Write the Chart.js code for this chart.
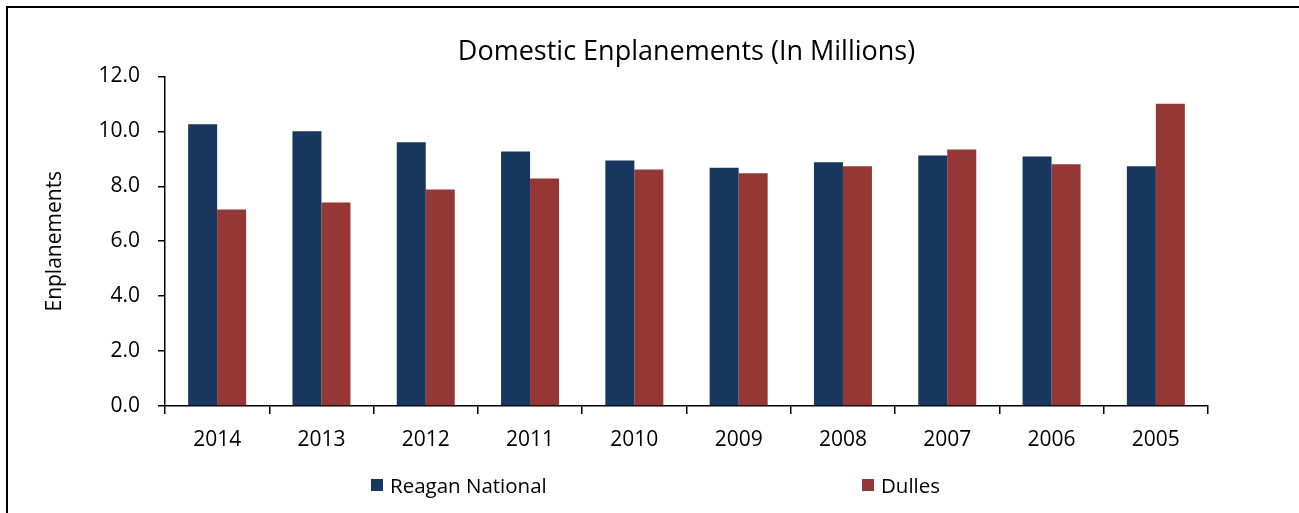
<!DOCTYPE html>
<html>
<head>
<meta charset="utf-8">
<script src="https://cdn.jsdelivr.net/npm/chart.js@4"></script>
<style>
  body { margin: 0; background: #fff; overflow: hidden; }
  #wrap { position: relative; width: 1299px; height: 513px; overflow: hidden; }
  #frame { position: absolute; left: 6px; top: 6px; width: 2000px; height: 2000px;
           border-left: 2px solid #000; border-top: 2px solid #000; pointer-events: none; }
  #legend { position: absolute; left: 371px; top: 471px; display: flex;
            font-family: "Open Sans", sans-serif; font-size: 20.5px; color: #000; }
  #legend div { width: 491px; display: flex; align-items: center; }
  #legend span.box { width: 12px; height: 12px; margin-right: 7px; display: inline-block; }
</style>
</head>
<body>
<div id="wrap">
  <canvas id="myChart" width="1299" height="513"></canvas>
  <div id="frame"></div>
  <div id="legend"></div>
</div>
<script>
const years = ['2014', '2013', '2012', '2011', '2010', '2009', '2008', '2007', '2006', '2005']
const reagan = [10.26, 10.0, 9.6, 9.27, 8.94, 8.67, 8.87, 9.12, 9.08, 8.73]
const dulles = [7.15, 7.41, 7.88, 8.28, 8.61, 8.47, 8.73, 9.34, 8.8, 11.0]
const yTicks = [0, 2, 4, 6, 8, 10, 12]

const font = "Open Sans"
const ctx = document.getElementById('myChart')

const qraf = new Chart(ctx, {
  type: 'bar',
  data: {
    labels: years,
    datasets: [
      { label: 'Reagan National', data: reagan, backgroundColor: '#17375E' },
      { label: 'Dulles', data: dulles, backgroundColor: '#953735' }
    ]
  },
  options: {
    responsive: false,
    animation: false,
    layout: { padding: { left: 30, right: 91, top: 0, bottom: 0 } },
    datasets: { bar: { categoryPercentage: 0.556, barPercentage: 1.0 } },
    plugins: {
      legend: { display: false },
      tooltip: { enabled: false },
      title: {
        display: true,
        fullSize: false,
        text: 'Domestic Enplanements (In Millions)',
        color: '#000',
        font: { family: font, size: 27, weight: 'normal' },
        padding: { top: 36, bottom: 8 }
      }
    },
    scales: {
      x: {
        afterFit: s => { s.height = 107 },
        grid: { display: true, drawOnChartArea: false, offset: true, tickLength: 8, color: '#000', lineWidth: 1.5 },
        border: { color: '#000', width: 1.5 },
        ticks: { color: '#000', padding: 13, font: { family: font, size: 21 } }
      },
      y: {
        min: 0,
        max: 12,
        afterFit: s => { s.width = 135 },
        afterBuildTicks: s => { s.ticks = yTicks.map(v => ({ value: v })) },
        grid: { display: true, drawOnChartArea: false, tickLength: 7, color: '#000', lineWidth: 1.5 },
        border: { color: '#000', width: 1.5 },
        ticks: { color: '#000', padding: 18, font: { family: font, size: 21 },
                 callback: v => v.toFixed(1) },
        title: { display: true, text: 'Enplanements', color: '#000',
                 font: { family: font, size: 21 }, padding: { top: 12, bottom: 0 } }
      }
    }
  }
})

// legend laid out like the Excel one (items spread across the bottom)
document.getElementById('legend').innerHTML = qraf.data.datasets.map(d =>
  `<div><span class="box" style="background:${d.backgroundColor}"></span>${d.label}</div>`
).join('')
</script>
</body>
</html>
